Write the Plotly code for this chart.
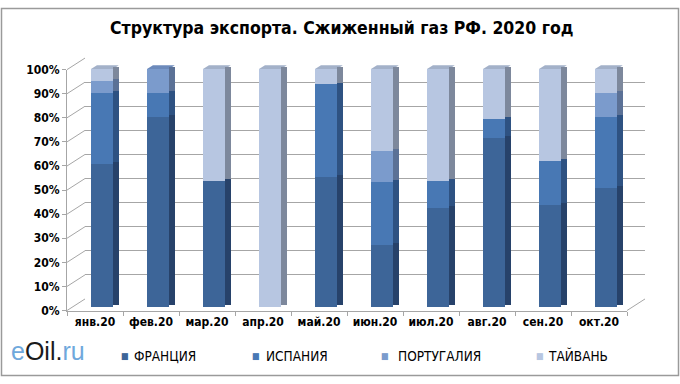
import plotly.graph_objects as go

months = ["янв.20", "фев.20", "мар.20", "апр.20", "май.20",
          "июн.20", "июл.20", "авг.20", "сен.20", "окт.20"]
france   = [60, 80, 53, 0, 54.5, 26, 41.5, 71, 43, 50]
spain    = [30, 10, 0, 0, 39, 26.5, 11.5, 8, 18.5, 30]
portugal = [5, 10, 0, 0, 0, 13, 0, 0, 0, 10]
taiwan   = [5, 0, 47, 100, 6.5, 34.5, 47, 21, 38.5, 10]
series_names = ["ФРАНЦИЯ", "ИСПАНИЯ", "ПОРТУГАЛИЯ", "ТАЙВАНЬ"]
yticks = [i / 10 for i in range(11)]

front_cols = ["#3d6598", "#4878b4", "#7b9bcc", "#b7c6e1"]
side_cols = ["#27426a", "#2e5282", "#5b7196", "#7d889c"]
top_cols = ["#33588a", "#3f6ca6", "#6c8abb", "#a3b1c9"]

W, H = 680, 384
def px(x): return x / W
def py(y): return 1 - y / H

FONT = "DejaVu Sans Condensed, Liberation Sans Narrow, Arial Narrow, sans-serif"

fig = go.Figure()
series = [france, spain, portugal, taiwan]
n = len(months)
idx = list(range(n))
YMAX = 102  # room above 100% for the bar caps

for s, name, fc in zip(series, series_names, front_cols):
    fig.add_trace(go.Bar(x=idx, y=s, name=name, marker=dict(color=fc, line=dict(width=0)),
                         width=0.393, xaxis="x3", yaxis="y3", showlegend=False,
                         hoverinfo="skip"))
for s, name, sc in zip(series, series_names, side_cols):
    fig.add_trace(go.Bar(x=idx, y=s, name=name + " side", marker=dict(color=sc, line=dict(width=0)),
                         width=0.107, offset=0.196, xaxis="x4", yaxis="y4", showlegend=False,
                         hoverinfo="skip"))

# top caps (parallelograms) computed from stacked totals
for k in range(len(series)):
    xs, ys = [], []
    for i in idx:
        total = sum(s[i] for s in series)
        top_k = max(j for j in range(len(series)) if series[j][i] > 0)
        if top_k != k:
            continue
        xs += [i - 0.1965, i + 0.1965, i + 0.30, i - 0.09, i - 0.1965, None]
        ys += [total, total, total + 1.6, total + 1.6, total, None]
    if xs:
        fig.add_trace(go.Scatter(x=xs, y=ys, fill="toself", fillcolor=top_cols[k],
                                 mode="lines", line=dict(width=0, color=top_cols[k]),
                                 xaxis="x3", yaxis="y3", showlegend=False, hoverinfo="skip"))

# empty traces to activate the wall axes
fig.add_trace(go.Scatter(x=[], y=[], xaxis="x2", yaxis="y2", showlegend=False))
fig.add_trace(go.Scatter(x=[], y=[], xaxis="x", yaxis="y", showlegend=False))

grid_col = "#a6a6a6"
fx0, fx1, fy0, fy1 = 67, 627, 315, 65      # front plane
bx0, bx1, by0, by1 = 85, 645, 303, 53      # back wall
b0, b100 = 311.7, 64.3                     # bar face 0% / 100%
pp = (b0 - b100) / 100.0
b_top = b0 - pp * YMAX

fig.update_layout(
    width=W, height=H, margin=dict(l=0, r=0, t=0, b=0),
    paper_bgcolor="white", plot_bgcolor="rgba(0,0,0,0)",
    barmode="stack", bargap=0, hovermode=False,
    font=dict(family=FONT, color="black"),
    xaxis=dict(domain=[px(fx0), px(fx1)], range=[-0.5, n - 0.5], anchor="y",
               tickvals=idx, ticktext=months, ticks="", showgrid=False,
               showline=True, linecolor=grid_col, zeroline=False,
               tickfont=dict(size=12, family=FONT, color="black", weight="bold"),
               minor=dict(tickvals=[i - 0.5 for i in range(n + 1)], ticks="outside",
                          ticklen=4, tickcolor=grid_col, showgrid=False)),
    yaxis=dict(domain=[py(fy0), py(fy1)], range=[0, 1], anchor="x",
               tickvals=yticks, tickformat=".0%", ticks="outside", ticklen=4,
               tickcolor=grid_col, showline=True, linecolor=grid_col,
               showgrid=False, zeroline=False,
               tickfont=dict(size=12, family=FONT, color="black", weight="bold")),
    xaxis2=dict(domain=[px(bx0), px(bx1)], range=[0, 1], anchor="y2",
                visible=False),
    yaxis2=dict(domain=[py(by0), py(by1)], range=[0, 1], anchor="x2",
                tickvals=yticks, showticklabels=False, showgrid=True,
                gridcolor=grid_col, gridwidth=1, zeroline=False, showline=False, ticks=""),
    xaxis3=dict(domain=[px(fx0 + 7), px(fx1 + 7)], range=[-0.5, n - 0.5], anchor="y3",
                visible=False),
    yaxis3=dict(domain=[py(b0), py(b_top)], range=[0, YMAX], anchor="x3",
                visible=False),
    xaxis4=dict(domain=[px(fx0 + 7), px(fx1 + 7)], range=[-0.5, n - 0.5], anchor="y4",
                visible=False),
    yaxis4=dict(domain=[py(b0 - 2), py(b_top - 2)], range=[0, YMAX], anchor="x4",
                visible=False),
)

shapes = []
for v in yticks:
    yf = fy0 + (fy1 - fy0) * v
    yb = by0 + (by1 - by0) * v
    shapes.append(dict(type="line", xref="paper", yref="paper",
                       x0=px(fx0), y0=py(yf), x1=px(bx0), y1=py(yb),
                       line=dict(color=grid_col, width=1), layer="below"))
shapes.append(dict(type="line", xref="paper", yref="paper",
                   x0=px(fx1), y0=py(fy0), x1=px(bx1), y1=py(by0),
                   line=dict(color=grid_col, width=1), layer="below"))
shapes.append(dict(type="rect", xref="paper", yref="paper",
                   x0=px(1.5), y0=py(382.5), x1=px(678.5), y1=py(1.5),
                   line=dict(color="#9a9a9a", width=1.5)))
fig.update_layout(shapes=shapes)

ann = []
ann.append(dict(text="<b>Структура экспорта. Сжиженный газ РФ. 2020 год</b>",
                x=px(341), y=py(22), xref="paper", yref="paper", showarrow=False,
                font=dict(size=17.5, family=FONT, color="black"),
                xanchor="center", yanchor="middle"))
leg_marker_x = [125, 256, 385, 540]
leg_text_x = [135, 267, 399, 549]
for mx, tx, name, fc in zip(leg_marker_x, leg_text_x, series_names, front_cols):
    ann.append(dict(text="■", x=px(mx), y=py(362), xref="paper", yref="paper",
                    showarrow=False, font=dict(size=9, color=fc),
                    xanchor="center", yanchor="middle", borderpad=0))
    ann.append(dict(text=name, x=px(tx - 2), y=py(362), xref="paper", yref="paper",
                    showarrow=False, font=dict(size=13.5, family=FONT, color="black"),
                    xanchor="left", yanchor="middle", borderpad=0))
ann.append(dict(text="<span style='color:#6fa8dc'>e</span><span style='color:#1a1a1a'>Oil</span>"
                     "<span style='color:#1a1a1a'>.</span><span style='color:#6fa8dc'>ru</span>",
                x=px(10), y=py(357), xref="paper", yref="paper", showarrow=False,
                font=dict(size=25, family="Liberation Sans, Arial, sans-serif"),
                xanchor="left", yanchor="middle", borderpad=0))
fig.update_layout(annotations=ann)

fig.write_html("out.html", config={"displayModeBar": False, "staticPlot": True},
               post_script="document.body.style.margin='0';document.body.style.overflow='hidden';")
